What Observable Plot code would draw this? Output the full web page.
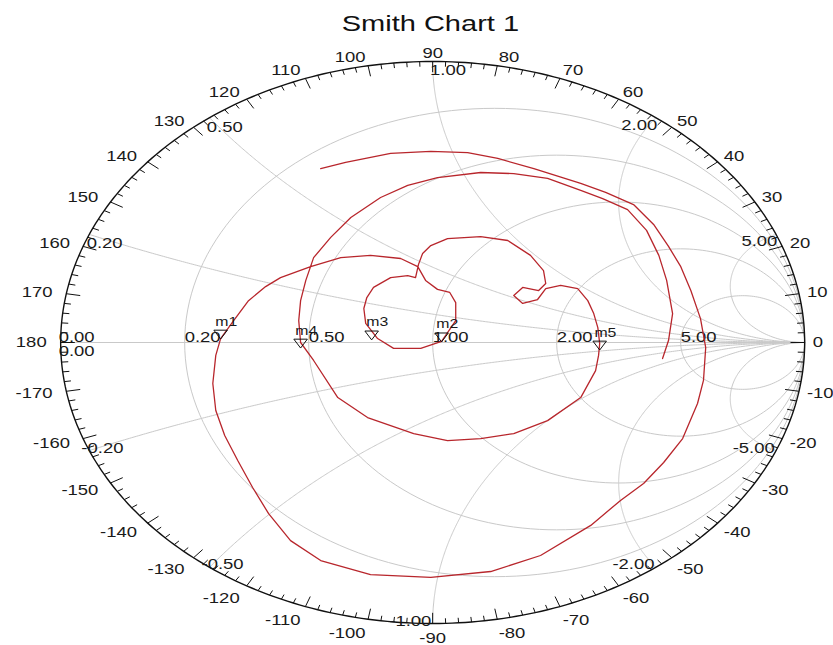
<!DOCTYPE html>
<html>
<head>
<meta charset="utf-8">
<script src="https://cdn.jsdelivr.net/npm/d3@7"></script>
<script src="https://cdn.jsdelivr.net/npm/@observablehq/plot@0.6"></script>
<style>
  html, body { margin: 0; padding: 0; background: #fff; }
  #chart { width: 833px; height: 645px; overflow: hidden; }
  #chart svg path, #chart svg line { vector-effect: non-scaling-stroke; }
</style>
</head>
<body>
<div id="chart"></div>
<script>
// ---- chart data ---------------------------------------------------------
const title = "Smith Chart 1";

// Measured reflection coefficient (real and imaginary parts of Γ), in sweep order
const traceRe = [
  -0.301, -0.234, -0.113, -0.005, 0.094, 0.175, 0.272, 0.398, 0.465, 0.540,
  0.594, 0.634, 0.667, 0.694, 0.720, 0.734, 0.728, 0.712, 0.672, 0.621,
  0.567, 0.505, 0.425, 0.290, 0.156, -0.005, -0.167, -0.301, -0.382, -0.441,
  -0.484, -0.524, -0.559, -0.583, -0.591, -0.583, -0.570, -0.535, -0.495, -0.449,
  -0.409, -0.328, -0.247, -0.167, -0.086, -0.040, -0.019, 0.013, 0.046, 0.062,
  0.062, 0.024, -0.032, -0.105, -0.148, -0.180, -0.185, -0.177, -0.159, -0.113,
  -0.067, -0.046, -0.038, -0.027, -0.005, 0.040, 0.129, 0.202, 0.263, 0.298,
  0.304, 0.285, 0.242, 0.218, 0.242, 0.282, 0.304, 0.344, 0.390, 0.417,
  0.433, 0.444, 0.449, 0.446, 0.438, 0.398, 0.309, 0.218, 0.129, 0.040,
  -0.051, -0.175, -0.255, -0.320, -0.355, -0.360, -0.355, -0.341, -0.320, -0.274,
  -0.220, -0.140, -0.067, 0.013, 0.129, 0.218, 0.309, 0.398, 0.457, 0.524,
  0.575, 0.608, 0.629, 0.645, 0.634, 0.618
];
const traceIm = [
  0.619, 0.641, 0.673, 0.680, 0.676, 0.655, 0.619, 0.566, 0.534, 0.491,
  0.420, 0.342, 0.270, 0.185, 0.085, -0.018, -0.135, -0.217, -0.342, -0.427,
  -0.502, -0.562, -0.651, -0.758, -0.815, -0.836, -0.826, -0.776, -0.705, -0.609,
  -0.516, -0.420, -0.331, -0.242, -0.146, -0.046, 0.014, 0.078, 0.149, 0.199,
  0.231, 0.270, 0.302, 0.310, 0.299, 0.270, 0.221, 0.189, 0.178, 0.142,
  0.078, 0.004, -0.021, -0.021, 0.014, 0.068, 0.121, 0.160, 0.196, 0.231,
  0.238, 0.231, 0.278, 0.317, 0.345, 0.370, 0.377, 0.363, 0.310, 0.256,
  0.210, 0.185, 0.196, 0.167, 0.139, 0.153, 0.192, 0.203, 0.192, 0.149,
  0.103, 0.053, -0.004, -0.046, -0.100, -0.196, -0.278, -0.324, -0.342, -0.349,
  -0.324, -0.267, -0.196, -0.064, 0.000, 0.078, 0.149, 0.221, 0.302, 0.374,
  0.445, 0.516, 0.559, 0.587, 0.605, 0.601, 0.584, 0.541, 0.512, 0.473,
  0.399, 0.310, 0.221, 0.103, 0.007, -0.057
];

// Markers on the trace
const markerNames = ["m1", "m2", "m3", "m4", "m5"];
const markerRe = [-0.570, 0.024, -0.164, -0.355, 0.449];
const markerIm = [0.028, 0.018, 0.025, -0.004, -0.011];

// Grid: constant-resistance circles and constant-reactance arcs
const resistanceValues = [0.2, 0.5, 1, 2, 5];
const reactanceValues = [0.2, 0.5, 1, 2, 5, -0.2, -0.5, -1, -2, -5];
// Angle scale on the rim (degrees)
const angleLabels = d3.range(-170, 181, 10);
const angleTickStep = 2;

// ---- geometry -----------------------------------------------------------
const W = 631, H = 645;          // drawing space; stretched to 833 px wide
const SX = 833 / W;
const RX = 372, RY = 281;        // rim radii in final pixels

const trace = traceRe.map((re, i) => ({re, im: traceIm[i]}));
const markers = markerNames.map((name, i) => ({name, re: markerRe[i], im: markerIm[i]}));

// constant-resistance circles
const rCircles = resistanceValues.flatMap(r =>
  d3.range(0, 361, 2).map(a => {
    const t = a * Math.PI / 180;
    return {r, re: r / (1 + r) + Math.cos(t) / (1 + r), im: Math.sin(t) / (1 + r)};
  })
);
// constant-reactance arcs, swept over resistance 0 → ∞
const rSweep = d3.range(0, Math.PI / 2, 0.004).map(u => Math.tan(u)).concat([1e6]);
const xArcs = reactanceValues.flatMap(x =>
  rSweep.map(r => {
    const d = (r + 1) ** 2 + x * x;
    return {x, re: (r * r + x * x - 1) / d, im: 2 * x / d};
  })
);
// rim
const rim = d3.range(0, 361, 1).map(a => {
  const t = a * Math.PI / 180;
  return {re: Math.cos(t), im: Math.sin(t)};
});
const ticks = d3.range(-180, 180, angleTickStep).map(a => {
  const t = a * Math.PI / 180, len = a % 10 === 0 ? 0.038 : 0.018;
  return {x1: Math.cos(t), y1: Math.sin(t), x2: Math.cos(t) * (1 - len), y2: Math.sin(t) * (1 - len)};
});
const angleRows = angleLabels.map(a => {
  const t = a * Math.PI / 180, c = Math.cos(t), s = Math.sin(t);
  const side = Math.abs(c) < 1e-6 ? "mid" : c < 0 ? "left" : "right";
  const gap = c < 0 ? 14 : 8, lift = s > 0 ? 8 : 15;
  return {label: String(a), side, x: side === "mid" ? 0 : c * (1 + gap / RX), y: s * (1 + lift / RY)};
});

// grid labels
const rLabels = resistanceValues.map(r => ({label: r.toFixed(2), re: (r - 1) / (r + 1), im: 0}));
const xLabels = reactanceValues.map(x => ({
  x, label: x.toFixed(2), re: (x * x - 1) / (x * x + 1), im: 2 * x / (x * x + 1)
}));
const pick = f => xLabels.filter(f);

const font = "'Liberation Sans', Arial, Helvetica, sans-serif";
const ink = "#1a1a1a";
const gridColor = "#c9c9c9";

const svg = Plot.plot({
  width: W,
  height: H,
  margin: 0,
  x: {domain: [-1, 1], range: [60 / SX, 804 / SX], axis: null},
  y: {domain: [-1, 1], range: [623, 61], axis: null},
  style: {fontFamily: font, background: "white", overflow: "visible"},
  marks: [
    // grid
    Plot.ruleY([0], {x1: -1, x2: 1, stroke: gridColor, strokeWidth: 1}),
    Plot.line(rCircles, {x: "re", y: "im", z: "r", stroke: gridColor, strokeWidth: 1}),
    Plot.line(xArcs, {x: "re", y: "im", z: "x", stroke: gridColor, strokeWidth: 1}),
    // rim and angle ticks
    Plot.line(rim, {x: "re", y: "im", stroke: "#111", strokeWidth: 1.4}),
    Plot.link(ticks, {x1: "x1", y1: "y1", x2: "x2", y2: "y2", stroke: "#111", strokeWidth: 1}),
    // angle labels
    Plot.text(angleRows.filter(d => d.side === "left"), {x: "x", y: "y", text: "label", textAnchor: "end", lineAnchor: "middle", fontSize: 14, fill: ink}),
    Plot.text(angleRows.filter(d => d.side === "right"), {x: "x", y: "y", text: "label", textAnchor: "start", lineAnchor: "middle", fontSize: 14, fill: ink}),
    Plot.text(angleRows.filter(d => d.side === "mid"), {x: "x", y: "y", text: "label", textAnchor: "middle", lineAnchor: "middle", fontSize: 14, fill: ink}),
    // resistance labels on the real axis
    Plot.text(rLabels, {x: "re", y: "im", text: "label", textAnchor: "start", lineAnchor: "bottom", dy: -1, fontSize: 14, fill: ink}),
    Plot.text([{label: "0.00", re: -1, im: 0}], {x: "re", y: "im", text: "label", textAnchor: "start", lineAnchor: "bottom", dx: -1.5, dy: -1, fontSize: 14, fill: ink}),
    Plot.text([{label: "0.00", re: -1, im: 0}], {x: "re", y: "im", text: "label", textAnchor: "start", lineAnchor: "top", dx: -1.5, dy: 4, fontSize: 14, fill: ink}),
    // reactance labels on the rim
    Plot.text(pick(d => d.x > 0 && d.x <= 1), {x: "re", y: "im", text: "label", textAnchor: "start", lineAnchor: "top", dx: -2, dy: 4, fontSize: 14, fill: ink}),
    Plot.text(pick(d => d.x > 1), {x: "re", y: "im", text: "label", textAnchor: "end", lineAnchor: "top", dx: 1, dy: 2, fontSize: 14, fill: ink}),
    Plot.text(pick(d => d.x < 0 && d.x > -1), {x: "re", y: "im", text: "label", textAnchor: "start", lineAnchor: "bottom", dx: -6, dy: 2, fontSize: 14, fill: ink}),
    Plot.text(pick(d => d.x <= -1), {x: "re", y: "im", text: "label", textAnchor: "end", lineAnchor: "bottom", dx: -1, dy: 2, fontSize: 14, fill: ink}),
    // measured trace
    Plot.line(trace, {x: "re", y: "im", stroke: "#b8262c", strokeWidth: 1.3, curve: "linear"}),
    // markers
    Plot.dot(markers, {x: "re", y: "im", symbol: "triangle", rotate: 180, r: 3.8, dy: -1.5, stroke: "#111", fill: "none", strokeWidth: 1}),
    Plot.text(markers, {x: "re", y: "im", text: "name", textAnchor: "start", lineAnchor: "bottom", dx: -4, dy: -9, fontSize: 12, fill: ink}),
    // title
    Plot.text([title], {text: d => d, frameAnchor: "top", dx: 10, dy: 23, lineAnchor: "middle", fontSize: 22, fill: "#111"})
  ]
});

// stretch the drawing horizontally to the full page width
svg.setAttribute("width", 833);
svg.setAttribute("height", H);
svg.setAttribute("preserveAspectRatio", "none");
svg.style.width = "833px";
svg.style.height = H + "px";
svg.style.maxWidth = "none";
document.getElementById("chart").appendChild(svg);
</script>
</body>
</html>
